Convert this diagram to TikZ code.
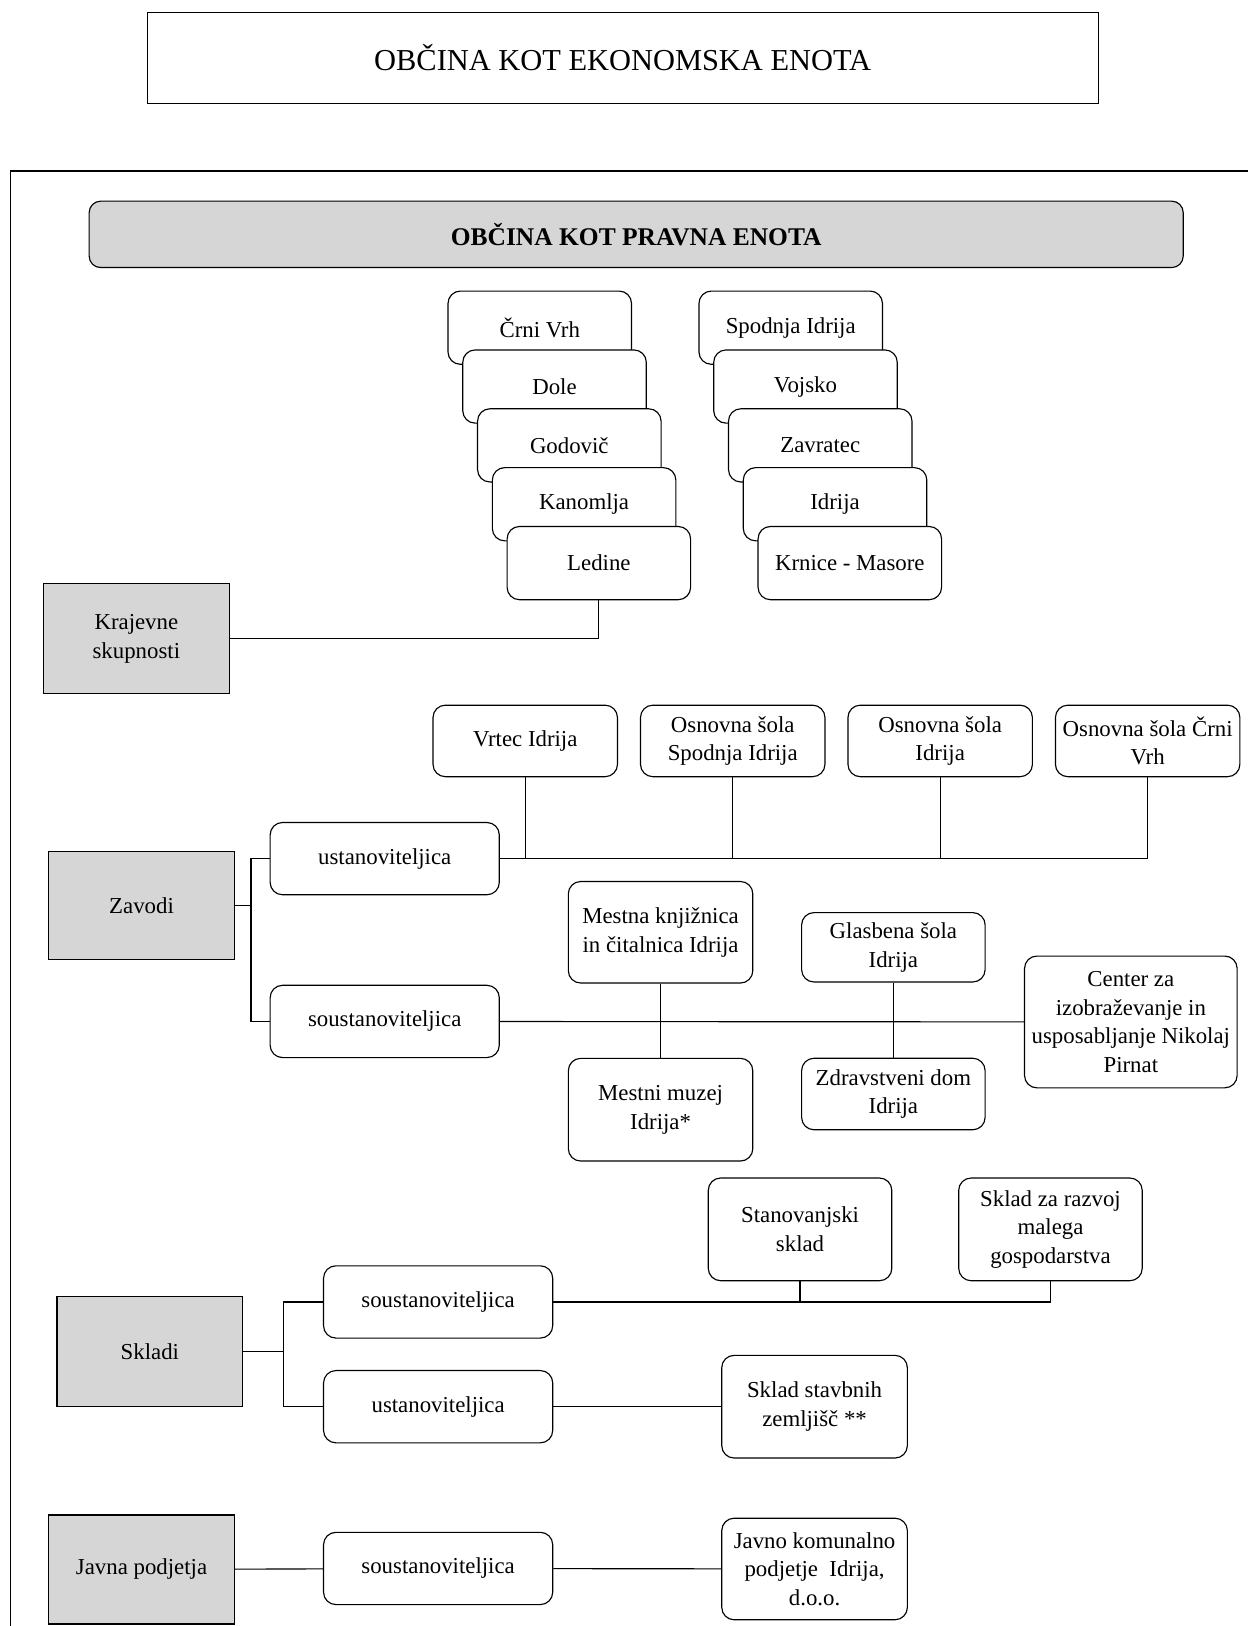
\documentclass[tikz,border=0pt]{standalone}
\usepackage{fontspec}
\setmainfont{Liberation Serif}
\usetikzlibrary{positioning}

\begin{document}
\begin{tikzpicture}[x=0.5453pt,y=-0.5453pt,line width=0.6pt,align=center,
		font=\fontsize{12}{15}\selectfont,node distance=11.5pt,
		unit/.style={draw,rounded corners=6.5pt,fill=white,inner sep=1pt,minimum width=96.5pt,minimum height=38.5pt},
		sola/.style={unit,minimum width=97pt,minimum height=37.6pt},
		role/.style={unit,minimum width=120.5pt,minimum height=38pt},
		group/.style={draw,fill=black!16,inner sep=1pt,minimum width=97.6pt,minimum height=57.8pt}]
	\useasboundingbox (0,0) rectangle (1203,1568);
	% glava
	\node[draw,minimum width=500pt,minimum height=48pt,font=\fontsize{16}{19}\selectfont] (ekon) at (600.5,56) {OBČINA KOT EKONOMSKA ENOTA};
	\draw[line width=0.8pt] (1210,165) -- (10,165) -- (10,1575);
	\node[draw,rounded corners=6pt,fill=black!16,minimum width=575.3pt,minimum height=34.9pt,font=\fontsize{13.4}{16}\selectfont\bfseries] (pravna) at (613.5,226) {OBČINA KOT PRAVNA ENOTA};

	% krajevne skupnosti
	\node[unit] (crni) at (520.5,316) {Črni Vrh};
	\node[unit] (dole) at ([shift={(14.25,56.75)}]crni) {Dole};
	\node[unit] (godovic) at ([shift={(14.25,56.75)}]dole) {Godovič};
	\node[unit] (kanomlja) at ([shift={(14.25,56.75)}]godovic) {Kanomlja};
	\node[unit] (ledine) at ([shift={(14.25,56.75)}]kanomlja) {Ledine};
	\node[unit] (spodnja) at (762.5,316) {Spodnja Idrija};
	\node[unit] (vojsko) at ([shift={(14.25,56.75)}]spodnja) {Vojsko};
	\node[unit] (zavratec) at ([shift={(14.25,56.75)}]vojsko) {Zavratec};
	\node[unit] (idrija) at ([shift={(14.25,56.75)}]zavratec) {Idrija};
	\node[unit] (krnice) at ([shift={(14.25,56.75)}]idrija) {Krnice - Masore};
	\node[group] (kraj) at (131.5,616) {Krajevne\\skupnosti};
	\draw (kraj) -| (ledine);

	% zavodi
	\node[sola] (vrtec) at (506.5,714.5) {Vrtec Idrija};
	\node[sola] (ossi) [right=of vrtec] {Osnovna šola\\Spodnja Idrija};
	\node[sola] (osi) [right=of ossi] {Osnovna šola\\Idrija};
	\node[sola] (oscv) [right=of osi] {Osnovna šola Črni\\Vrh};
	\node[role] (zust) at (371,828) {ustanoviteljica};
	\node[role] (zsou) at (371,985) {soustanoviteljica};
	\node[group,minimum height=56.7pt] (zavodi) at (136.5,873) {Zavodi};
	\coordinate (zveja) at (242,873);
	\draw (zavodi) -- (zveja) |- (zust);
	\draw (zveja) |- (zsou);
	\draw (zust) -| (oscv);
	\foreach \n in {vrtec,ossi,osi}
		\draw (\n) -- (\n |- zust);
	\node[unit,minimum width=97pt,minimum height=53.4pt] (mestna) at (637,899) {Mestna knjižnica\\in čitalnica Idrija};
	\node[unit,minimum width=97pt,minimum height=54pt] (muzej) [below=39pt of mestna] {Mestni muzej\\Idrija*};
	\node[unit,minimum height=36.5pt] (glasb) at (861.5,913.5) {Glasbena šola\\Idrija};
	\node[unit,minimum height=37.6pt] (zdrav) [below=39.5pt of glasb] {Zdravstveni dom\\Idrija};
	\node[unit,minimum width=111.8pt,minimum height=69.3pt] (izob) at (1090.5,985.5) {Center za\\izobraževanje in\\usposabljanje Nikolaj\\Pirnat};
	\path (zsou) edge (izob)
		(mestna) edge (muzej)
		(glasb) edge (zdrav);

	% skladi
	\node[unit,minimum height=54pt] (stan) at (771.5,1185.5) {Stanovanjski\\sklad};
	\node[unit,minimum height=54pt] (razvoj) at (1013,1185.5) {Sklad za razvoj\\malega\\gospodarstva};
	\node[role] (ssou) at (422.5,1255.5) {soustanoviteljica};
	\node[role] (sust) at (422.5,1356.5) {ustanoviteljica};
	\node[unit,minimum width=97.6pt,minimum height=54pt] (stavb) at (785.5,1356.5) {Sklad stavbnih\\zemljišč **};
	\node[group] (skladi) at (144.5,1303) {Skladi};
	\coordinate (sveja) at (273,1303);
	\draw (skladi) -- (sveja) |- (ssou);
	\draw (sveja) |- (sust);
	\draw (ssou) -| (razvoj);
	\draw (stan) -- (stan |- ssou);
	\path (sust) edge (stavb);

	% javna podjetja
	\node[group,minimum height=57.3pt] (javna) at (136.5,1513.5) {Javna podjetja};
	\node[role] (jsou) at (422.5,1512.5) {soustanoviteljica};
	\node[unit,minimum width=97.6pt,minimum height=53.4pt] (komun) at (785.5,1513) {Javno komunalno\\podjetje~ Idrija,\\d.o.o.};
	\path (javna) edge (jsou)
		(jsou) edge (komun);
\end{tikzpicture}
\end{document}
